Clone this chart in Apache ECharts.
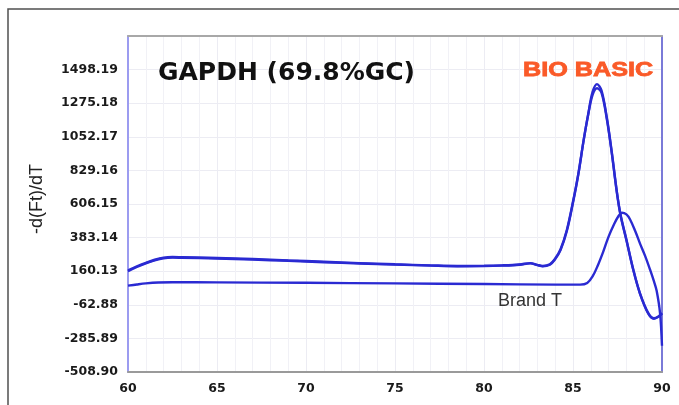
<!DOCTYPE html>
<html>
<head>
<meta charset="utf-8">
<script src="https://cdn.jsdelivr.net/npm/echarts@6/dist/echarts.min.js"></script>
<style>
html,body{margin:0;padding:0;background:#fff;}
#chart{width:679px;height:405px;}
</style>
</head>
<body>
<div id="chart"></div>
<script>
// ---- data ----
var xTicks = [60, 65, 70, 75, 80, 85, 90];
var yTickLabels = ['-508.90', '-285.89', '-62.88', '160.13', '383.14', '606.15', '829.16', '1052.17', '1275.18', '1498.19'];
var yMin = -508.90;
var yStep = 223.01;

// upper-baseline sample (two overlapping replicates), high peak near 86.4 °C
var tempsA = [60, 60.5, 61, 61.5, 62, 62.5, 63, 65, 67, 69, 71, 73, 75, 77, 78.5, 80, 81, 82, 82.6, 83.0, 83.3, 83.7, 84.0, 84.3, 84.65, 85.0, 85.3, 85.6, 85.85, 86.1, 86.35, 86.6, 86.9, 87.17, 87.46, 87.67, 88.0, 88.39, 88.76, 89.23, 89.55, 89.8, 90];
var valuesA1 = [160, 188, 212, 232, 246, 250, 249, 244, 237, 229, 220, 211, 204, 197, 193, 194, 197, 203, 212, 200, 192, 203, 240, 300, 425, 615, 802, 1030, 1200, 1350, 1402, 1360, 1180, 958, 691, 536, 370, 170, 15, -118, -152, -140, -118];
var valuesA2 = [166, 193, 216, 236, 250, 254, 253, 248, 241, 232, 223, 214, 206, 199, 195, 196, 199, 205, 214, 202, 195, 206, 244, 306, 432, 622, 808, 1032, 1196, 1330, 1374, 1345, 1170, 952, 686, 532, 366, 166, 12, -122, -155, -142, -120];

// Brand T: low baseline, smaller peak near 87.7 °C
var tempsB = [60, 60.5, 61, 61.7, 62.5, 65, 70, 75, 80, 84, 85.4, 85.8, 86.1, 86.4, 86.7, 87.0, 87.3, 87.55, 87.75, 88.0, 88.2, 88.5, 88.76, 89.05, 89.33, 89.55, 89.7, 89.89, 90];
var valuesB = [64, 72, 79, 85, 87, 86, 83, 79, 75, 71, 71, 82, 125, 200, 290, 390, 470, 525, 548, 537, 505, 425, 345, 262, 170, 92, 30, -118, -335];

var titleText = 'GAPDH (69.8%GC)';
var brandText = 'BIO BASIC';
var curveLabel = 'Brand T';
var yAxisName = '-d(Ft)/dT';

function pairs(xs, ys) { return xs.map(function (x, i) { return [x, ys[i]]; }); }

var lineColor = '#2a2ad2';
var chart = echarts.init(document.getElementById('chart'), null, {renderer: 'canvas'});

function lineSeries(name, data) {
  return {
    name: name, type: 'line', xAxisIndex: 0, yAxisIndex: 0,
    data: data, showSymbol: false, smooth: 0.35,
    lineStyle: {color: lineColor, width: 2.4},
    itemStyle: {color: lineColor},
    silent: true, animation: false, z: 5
  };
}

chart.setOption({
  backgroundColor: '#ffffff',
  animation: false,
  grid: {left: 128, top: 36, right: 17, bottom: 33, containLabel: false},
  xAxis: [{
    type: 'value', min: xTicks[0], max: xTicks[xTicks.length - 1], interval: 5,
    position: 'bottom',
    axisLine: {show: true, onZero: false, lineStyle: {color: '#9a9a9a', width: 2}},
    axisTick: {show: false},
    minorTick: {show: false, splitNumber: 5},
    minorSplitLine: {show: true, lineStyle: {color: '#f1f1f6', width: 1}},
    splitLine: {show: true, lineStyle: {color: '#ececf3', width: 1}},
    axisLabel: {color: '#1a1a1a', fontSize: 12.5, fontWeight: 'bold', fontFamily: 'DejaVu Sans', margin: 10}
  }, {
    type: 'value', min: xTicks[0], max: xTicks[xTicks.length - 1], position: 'top',
    axisLine: {show: true, onZero: false, lineStyle: {color: '#a8a8a8', width: 2}},
    axisTick: {show: false}, axisLabel: {show: false}, splitLine: {show: false}
  }],
  yAxis: [{
    type: 'value', min: yMin, max: yMin + 10 * yStep, position: 'left',
    axisLine: {show: false, onZero: false}, axisTick: {show: false}, axisLabel: {show: false}, splitLine: {show: false}
  }, {
    type: 'value', min: 0, max: 10, interval: 1, position: 'left',
    axisLine: {show: true, onZero: false, lineStyle: {color: '#9c9cf0', width: 2}},
    axisTick: {show: false},
    splitLine: {show: true, lineStyle: {color: '#ececf3', width: 1}},
    axisLabel: {
      color: '#1a1a1a', fontSize: 12.5, fontWeight: 'bold', fontFamily: 'DejaVu Sans', margin: 10,
      formatter: function (v) { return yTickLabels[Math.round(v)] || ''; }
    }
  }, {
    type: 'value', min: 0, max: 10, position: 'right',
    axisLine: {show: true, onZero: false, lineStyle: {color: '#7a7ad8', width: 2}},
    axisTick: {show: false}, axisLabel: {show: false}, splitLine: {show: false}
  }],
  series: [
    lineSeries('A1', pairs(tempsA, valuesA1)),
    lineSeries('A2', pairs(tempsA, valuesA2)),
    lineSeries('Brand T', pairs(tempsB, valuesB))
  ],
  graphic: [
    {type: 'rect', silent: true, z: 0, shape: {x: 8, y: 9, width: 720, height: 440},
      style: {fill: 'none', stroke: '#505050', lineWidth: 1.5}},
    {type: 'text', silent: true, x: 158, y: 73, z: 10,
      style: {text: titleText, font: 'bold 25px "DejaVu Sans"', fill: '#111', verticalAlign: 'middle', align: 'left'}},
    {type: 'text', silent: true, x: 523, y: 70, scaleX: 1.26, z: 10,
      style: {text: brandText, font: 'bold 20px "Liberation Sans"', fill: '#fa5a28', stroke: '#fa5a28', lineWidth: 0.8, verticalAlign: 'middle', align: 'left'}},
    {type: 'text', silent: true, x: 498, y: 301, z: 10,
      style: {text: curveLabel, font: '18px "Liberation Sans"', fill: '#333', verticalAlign: 'middle', align: 'left'}},
    {type: 'text', silent: true, x: 37, y: 199, rotation: Math.PI / 2, z: 10,
      style: {text: yAxisName, font: '18px "Liberation Sans"', fill: '#222', verticalAlign: 'middle', align: 'center'}}
  ]
});
</script>
</body>
</html>
